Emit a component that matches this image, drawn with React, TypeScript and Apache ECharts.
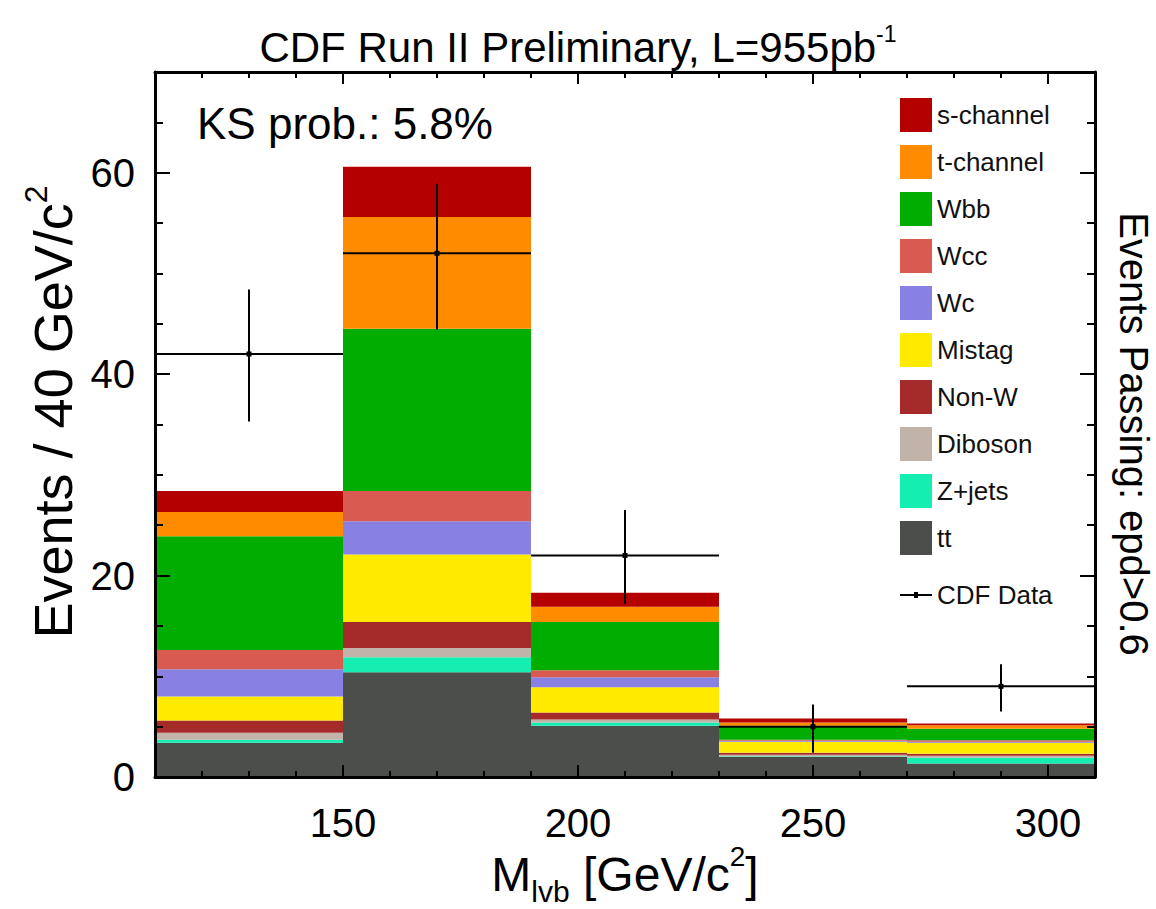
import React, { useEffect, useRef } from "react";
import * as echarts from "echarts";

const FONT = '"Liberation Sans", Arial, Helvetica, sans-serif';

// Histogram bin edges (GeV/c^2)
const binEdges = [110, 150, 190, 230, 270, 310];

// Per-bin contributions (events / 40 GeV/c^2), bottom of stack first
const ttValues = [3.4, 10.4, 5.1, 2.0, 1.35];
const zjetsValues = [0.3, 1.5, 0.3, 0.05, 0.55];
const dibosonValues = [0.7, 0.9, 0.3, 0.15, 0.2];
const nonWValues = [1.2, 2.6, 0.7, 0.2, 0.2];
const mistagValues = [2.4, 6.7, 2.5, 1.1, 1.1];
const wcValues = [2.7, 3.3, 1.0, 0.1, 0.1];
const wccValues = [1.9, 3.0, 0.7, 0.1, 0.15];
const wbbValues = [11.3, 16.1, 4.8, 1.4, 1.15];
const tChannelValues = [2.4, 11.1, 1.5, 0.3, 0.35];
const sChannelValues = [2.1, 5.0, 1.4, 0.4, 0.15];

// CDF data points with asymmetric errors
const dataValues = [42, 52, 22, 5, 9];
const dataErrLow = [35.3, 44.4, 17.2, 2.4, 6.5];
const dataErrHigh = [48.4, 58.9, 26.5, 7.2, 11.2];

// Axis ticks
const xMajorTicks = [150, 200, 250, 300];
const yMajorTicks = [0, 20, 40, 60];

const components = [
  { name: "tt", values: ttValues, color: "#4b4e4b" },
  { name: "Z+jets", values: zjetsValues, color: "#14eeb0" },
  { name: "Diboson", values: dibosonValues, color: "#c2b3aa" },
  { name: "Non-W", values: nonWValues, color: "#a52b2b" },
  { name: "Mistag", values: mistagValues, color: "#ffea00" },
  { name: "Wc", values: wcValues, color: "#8880e2" },
  { name: "Wcc", values: wccValues, color: "#d95a50" },
  { name: "Wbb", values: wbbValues, color: "#00ad00" },
  { name: "t-channel", values: tChannelValues, color: "#ff8c00" },
  { name: "s-channel", values: sChannelValues, color: "#b50000" },
];

export default function App() {
  const ref = useRef<HTMLDivElement>(null);

  useEffect(() => {
    if (!ref.current) return;
    const chart = echarts.init(ref.current, null, { renderer: "svg" });

    const base = binEdges.slice(0, -1).map(() => 0);
    const stackSeries = components.map((c) => {
      const rows = c.values.map((v, i) => {
        const row = [binEdges[i], binEdges[i + 1], base[i], base[i] + v];
        base[i] += v;
        return row;
      });
      return {
        type: "custom",
        name: c.name,
        xAxisIndex: 0,
        yAxisIndex: 0,
        itemStyle: { color: c.color },
        data: rows,
        z: 2,
        renderItem: (params: any, api: any) => {
          const p0 = api.coord([api.value(0), api.value(3)]);
          const p1 = api.coord([api.value(1), api.value(2)]);
          return {
            type: "rect",
            shape: { x: p0[0], y: p0[1], width: p1[0] - p0[0], height: p1[1] - p0[1] },
            style: { fill: c.color },
          };
        },
      };
    });

    const dataRows = dataValues.map((v, i) => [
      binEdges[i],
      binEdges[i + 1],
      v,
      dataErrLow[i],
      dataErrHigh[i],
    ]);

    const dataSeries = {
      type: "custom",
      name: "CDF Data",
      xAxisIndex: 0,
      yAxisIndex: 0,
      itemStyle: { color: "#000" },
      data: dataRows,
      z: 5,
      renderItem: (params: any, api: any) => {
        const lo = api.value(0);
        const hi = api.value(1);
        const c = (lo + hi) / 2;
        const v = api.value(2);
        const pl = api.coord([lo, v]);
        const pr = api.coord([hi, v]);
        const pb = api.coord([c, api.value(3)]);
        const pt = api.coord([c, api.value(4)]);
        const pc = api.coord([c, v]);
        const ls = { stroke: "#000", lineWidth: 2 };
        return {
          type: "group",
          children: [
            { type: "line", shape: { x1: pl[0], y1: pl[1], x2: pr[0], y2: pr[1] }, style: ls },
            { type: "line", shape: { x1: pb[0], y1: pb[1], x2: pt[0], y2: pt[1] }, style: ls },
            { type: "rect", shape: { x: pc[0] - 2.5, y: pc[1] - 2.5, width: 5, height: 5 }, style: { fill: "#000" } },
          ],
        };
      },
    };

    const lineStyle = { color: "#000", width: 2 };
    const axisLineStyle = { color: "#000", width: 3 };

    const xBase = { type: "value", min: 110, max: 310, z: 10, splitLine: { show: false } };
    const yBase = { type: "value", min: 0, max: 70, z: 10, splitLine: { show: false } };

    const option: any = {
      animation: false,
      backgroundColor: "#fff",
      title: {
        left: "center",
        top: 17,
        text: "{a|CDF Run II Preliminary, L=955pb}{s|-1}",
        textStyle: {
          fontWeight: "normal",
          rich: {
            a: { fontFamily: FONT, fontSize: 42, fontWeight: "normal", color: "#000", lineHeight: 46, verticalAlign: "bottom" },
            s: { fontFamily: FONT, fontSize: 23, fontWeight: "normal", color: "#000", lineHeight: 46, verticalAlign: "top" },
          },
        },
      },
      grid: { left: 155, right: 61, top: 72, bottom: 132, show: false },
      legend: [
        {
          orient: "vertical",
          left: 900,
          top: 98,
          padding: 0,
          itemWidth: 32,
          itemHeight: 34,
          itemGap: 13,
          icon: "rect",
          selectedMode: false,
          data: components.map((c) => c.name).reverse(),
          textStyle: { fontFamily: FONT, fontSize: 26, color: "#111" },
        },
        {
          orient: "vertical",
          left: 900,
          top: 582,
          padding: 0,
          itemWidth: 32,
          itemHeight: 6,
          selectedMode: false,
          data: [{ name: "CDF Data", icon: "path://M0,2 L14,2 L14,0 L18,0 L18,2 L32,2 L32,4 L18,4 L18,6 L14,6 L14,4 L0,4 Z" }],
          textStyle: { fontFamily: FONT, fontSize: 26, color: "#111" },
        },
      ],
      xAxis: [
        {
          ...xBase,
          position: "bottom",
          interval: 10,
          axisLine: { show: true, onZero: false, lineStyle: axisLineStyle },
          axisTick: { show: true, inside: true, length: 6, lineStyle },
          axisLabel: { show: false },
        },
        {
          ...xBase,
          position: "bottom",
          axisLine: { show: false, onZero: false },
          axisTick: { show: true, inside: true, length: 12, lineStyle, customValues: xMajorTicks },
          axisLabel: {
            show: true,
            customValues: xMajorTicks,
            margin: 26,
            fontFamily: FONT,
            fontSize: 40,
            color: "#000",
          },
        },
        {
          ...xBase,
          position: "top",
          interval: 10,
          axisLine: { show: true, onZero: false, lineStyle: axisLineStyle },
          axisTick: { show: true, inside: true, length: 6, lineStyle },
          axisLabel: { show: false },
        },
        {
          ...xBase,
          position: "top",
          axisLine: { show: false, onZero: false },
          axisTick: { show: true, inside: true, length: 12, lineStyle, customValues: xMajorTicks },
          axisLabel: { show: false },
        },
      ],
      yAxis: [
        {
          ...yBase,
          position: "left",
          interval: 5,
          axisLine: { show: true, onZero: false, lineStyle: axisLineStyle },
          axisTick: { show: true, inside: true, length: 8, lineStyle },
          axisLabel: { show: false },
        },
        {
          ...yBase,
          position: "left",
          axisLine: { show: false, onZero: false },
          axisTick: { show: true, inside: true, length: 15, lineStyle, customValues: yMajorTicks },
          axisLabel: {
            show: true,
            customValues: yMajorTicks,
            margin: 20,
            fontFamily: FONT,
            fontSize: 40,
            color: "#000",
          },
        },
        {
          ...yBase,
          position: "right",
          interval: 5,
          axisLine: { show: true, onZero: false, lineStyle: axisLineStyle },
          axisTick: { show: true, inside: true, length: 8, lineStyle },
          axisLabel: { show: false },
        },
        {
          ...yBase,
          position: "right",
          axisLine: { show: false, onZero: false },
          axisTick: { show: true, inside: true, length: 15, lineStyle, customValues: yMajorTicks },
          axisLabel: { show: false },
        },
      ],
      graphic: [
        {
          type: "text",
          left: 197,
          top: 101,
          z: 20,
          style: { text: "KS prob.: 5.8%", fontFamily: FONT, fontSize: 44, fill: "#000" },
        },
        {
          type: "text",
          x: 50,
          y: 412,
          rotation: Math.PI / 2,
          z: 20,
          style: {
            text: "{a|Events / 40 GeV/c}{s|2}",
            align: "center",
            verticalAlign: "middle",
            rich: {
              a: { fontFamily: FONT, fontSize: 54, fill: "#000", lineHeight: 60, verticalAlign: "bottom" },
              s: { fontFamily: FONT, fontSize: 32, fill: "#000", lineHeight: 60, verticalAlign: "top" },
            },
          },
        },
        {
          type: "text",
          x: 1134,
          y: 434,
          rotation: -Math.PI / 2,
          z: 20,
          style: {
            text: "Events Passing: epd>0.6",
            align: "center",
            verticalAlign: "middle",
            fontFamily: FONT,
            fontSize: 40,
            fill: "#000",
          },
        },
        {
          type: "text",
          x: 625,
          y: 874,
          z: 20,
          style: {
            text: "{a|M}{b|lvb}{a| [GeV/c}{s|2}{a|]}",
            align: "center",
            verticalAlign: "middle",
            rich: {
              a: { fontFamily: FONT, fontSize: 48, fill: "#000", lineHeight: 64, verticalAlign: "middle" },
              b: { fontFamily: FONT, fontSize: 30, fill: "#000", lineHeight: 64, verticalAlign: "bottom" },
              s: { fontFamily: FONT, fontSize: 28, fill: "#000", lineHeight: 64, verticalAlign: "top" },
            },
          },
        },
      ],
      series: [...stackSeries, dataSeries],
    };

    chart.setOption(option);
    return () => chart.dispose();
  }, []);

  return (
    <div
      ref={ref}
      style={{ position: "absolute", left: 0, top: 0, width: 1156, height: 909, background: "#fff" }}
    />
  );
}
